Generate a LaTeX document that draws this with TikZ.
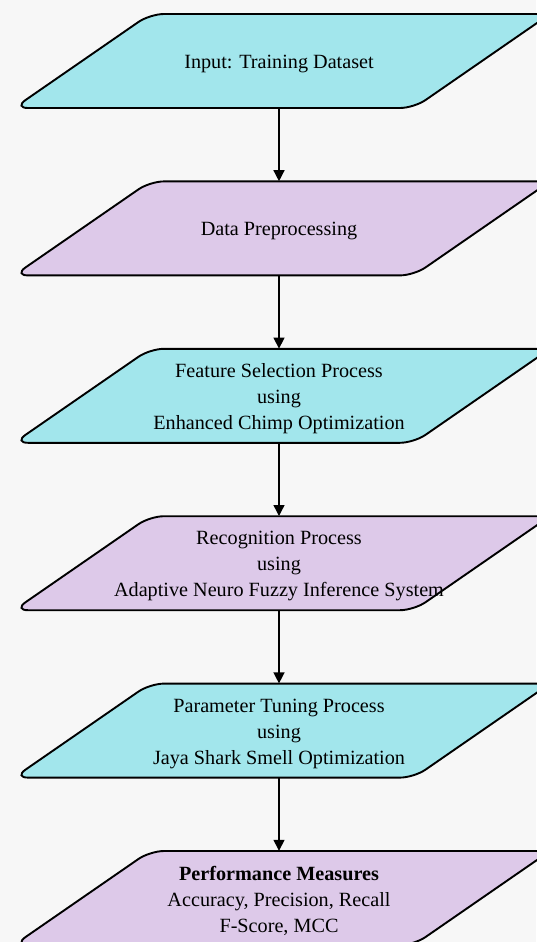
\documentclass[tikz,border=0pt]{standalone}
\usepackage{fontspec}
\setmainfont{Liberation Serif}
\usetikzlibrary{arrows.meta,positioning,backgrounds}
\definecolor{stepcyan}{HTML}{A2E6EC}
\definecolor{steplilac}{HTML}{DDC9E9}

\begin{document}
\begin{tikzpicture}[x=1pt,y=1pt,>={Triangle[width=11pt,length=11pt]},node distance=73pt]
  \tikzset{block/.style={minimum height=94pt,minimum width=400pt,inner sep=0pt,align=center,
      font=\fontsize{20.2}{26}\selectfont},
    plate/.style={draw,line width=1.9pt,rounded corners=14pt},
    every edge/.style={draw,line width=1.4pt}}
  \useasboundingbox (0,0) rectangle (536,-942);
  \node[block] (input) at (279,-64) {Input: Training Dataset};
  \node[block,below=of input] (prep) {Data Preprocessing};
  \node[block,below=of prep] (feat) {Feature Selection Process\\using\\Enhanced Chimp Optimization};
  \node[block,below=of feat] (recog) {Recognition Process\\using\\Adaptive Neuro Fuzzy Inference System};
  \node[block,below=of recog] (tune) {Parameter Tuning Process\\using\\Jaya Shark Smell Optimization};
  \node[block,below=of tune] (perf) {\textbf{Performance Measures}\\Accuracy, Precision, Recall\\F-Score, MCC};
  \begin{pgfonlayer}{background}
    \fill[black!3] (0,0) rectangle (536,-942);
    \foreach \n/\c in {input/stepcyan,prep/steplilac,feat/stepcyan,recog/steplilac,tune/stepcyan,perf/steplilac}
      \draw[plate,fill=\c] ([shift={(-265,-44)}]\n.center) -- ([shift={(135,-44)}]\n.center)
        -- ([shift={(271,50)}]\n.center) -- ([shift={(-129,50)}]\n.center) -- cycle;
  \end{pgfonlayer}
  \path[->] ([yshift=3pt]input.south) edge ([yshift=3pt]prep.north);
  \path[->] ([yshift=3pt]prep.south)  edge ([yshift=3pt]feat.north);
  \path[->] ([yshift=3pt]feat.south)  edge ([yshift=3pt]recog.north);
  \path[->] ([yshift=3pt]recog.south) edge ([yshift=3pt]tune.north);
  \path[->] ([yshift=3pt]tune.south)  edge ([yshift=3pt]perf.north);
\end{tikzpicture}
\end{document}
